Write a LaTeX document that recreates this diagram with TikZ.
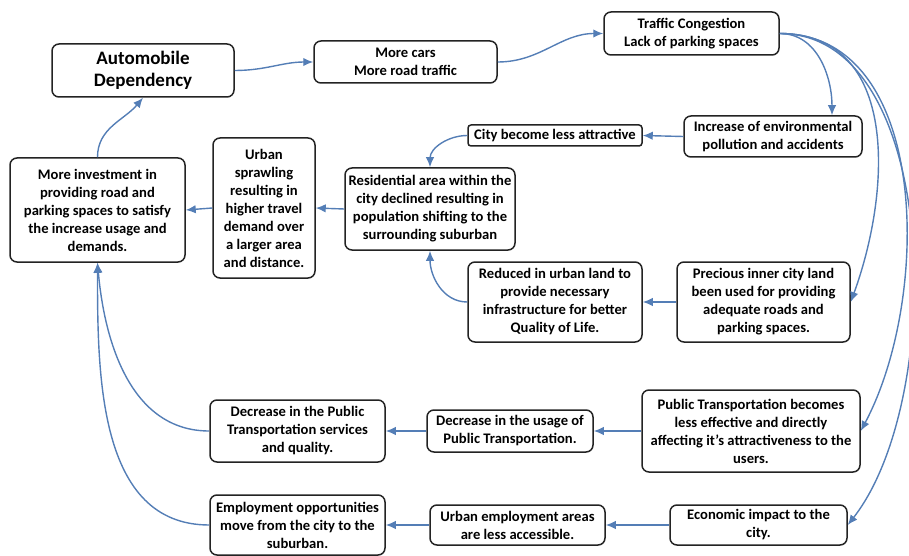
\documentclass[tikz,border=0pt]{standalone}
\usepackage{fontspec}
\setmainfont{Carlito}
\usetikzlibrary{arrows.meta, positioning}
\definecolor{myBlue}{RGB}{84,126,182}
\definecolor{myLine}{RGB}{35,35,35}

\begin{document}
\begin{tikzpicture}[x=1pt, y=-1pt,
		box/.style={draw=myLine, line width=1.5pt, rounded corners=7pt, align=center, inner sep=2pt, fill=white, font=\fontsize{14.6}{18}\selectfont\bfseries},
		link/.style={-{Latex[length=10pt,width=8.5pt]}, myBlue, line width=1.4pt}]
	\useasboundingbox (0,0) rectangle (909,556);
	% Top row
	\node[box, minimum width=182pt, minimum height=53pt, font=\fontsize{19}{22}\selectfont\bfseries] (auto) at (143,70.5) {Automobile\\Dependency};
	\node[box, minimum width=183pt, minimum height=42pt] (cars) at (405.5,62) {More cars\\More road traffic};
	\node[box, minimum width=175pt, minimum height=43pt] (traffic) at (691.5,33.5) {Traffic Congestion\\Lack of parking spaces};
	% Second row
	\node[box, minimum width=178pt, minimum height=41pt] (env) at (773,136.5) {Increase of environmental\\pollution and accidents};
	\node[box, minimum width=174pt, minimum height=21pt, rounded corners=3pt] (city) at (555,135.5) {City become less attractive};
	\node[box, minimum width=170pt, minimum height=82pt] (resid) at (430,209) {Residential area within the\\city declined resulting in\\population shifting to the\\surrounding suburban};
	\node[box, minimum width=102pt, minimum height=140pt] (sprawl) at (264,208) {Urban\\sprawling\\resulting in\\higher travel\\demand over\\a larger area\\and distance.};
	\node[box, minimum width=175pt, minimum height=104pt] (invest) at (97.5,210) {More investment in\\providing road and\\parking spaces to satisfy\\the increase usage and\\demands.};
	% Third row
	\node[box, minimum width=174pt, minimum height=80pt] (reduced) at (555,302) {Reduced in urban land to\\provide necessary\\infrastructure for better\\Quality of Life.};
	\node[box, minimum width=173pt, minimum height=80pt] (precious) at (763.5,302) {Precious inner city land\\been used for providing\\adequate roads and\\parking spaces.};
	% Public transport row
	\node[box, minimum width=218pt, minimum height=82pt] (ptless) at (751,431) {Public Transportation becomes\\less effective and directly\\affecting it's attractiveness to the\\users.};
	\node[box, minimum width=166pt, minimum height=42pt] (usage) at (510,431) {Decrease in the usage of\\Public Transportation.};
	\node[box, minimum width=175pt, minimum height=62pt] (ptserv) at (297.5,431) {Decrease in the Public\\Transportation services\\and quality.};
	% Bottom row
	\node[box, minimum width=177pt, minimum height=40pt] (econ) at (758.5,525) {Economic impact to the\\city.};
	\node[box, minimum width=175pt, minimum height=40pt] (urbemp) at (517.5,525) {Urban employment areas\\are less accessible.};
	\node[box, minimum width=175pt, minimum height=60pt] (employ) at (297.5,525) {Employment opportunities\\move from the city to the\\suburban.};
	% Links
	\draw[link] (auto.east) to[out=0,in=180] (cars.west);
	\draw[link] (cars.east) to[out=0,in=180] (traffic.west);
	\draw[link] (traffic.east) to[out=0,in=90] ([xshift=59pt]env.north);
	\draw[link] (traffic.east) to[out=0,in=70, looseness=1.1] (precious.east);
	\draw[link] (traffic.east) to[out=0,in=62, looseness=0.95] (ptless.east);
	\draw[link] (traffic.east) to[out=0,in=52, looseness=0.83] (econ.east);
	\draw[link] (env.west) -- (city.east);
	\draw[link] (city.west) to[out=180,in=90] (resid.north);
	\draw[link] (precious.west) -- (reduced.east);
	\draw[link] (reduced.west) to[out=180,in=-90] (resid.south);
	\draw[link] (resid.west) -- (sprawl.east);
	\draw[link] (sprawl.west) -- (invest.east);
	\draw[link] (invest.north) to[out=90,in=-130] (auto.south);
	\draw[link] (ptless.west) -- (usage.east);
	\draw[link] (usage.west) -- (ptserv.east);
	\draw[link] (ptserv.west) to[out=180,in=-85] (invest.south);
	\draw[link] (econ.west) -- (urbemp.east);
	\draw[link] (urbemp.west) -- (employ.east);
	\draw[link] (employ.west) to[out=180,in=-90] (invest.south);
\end{tikzpicture}
\end{document}
